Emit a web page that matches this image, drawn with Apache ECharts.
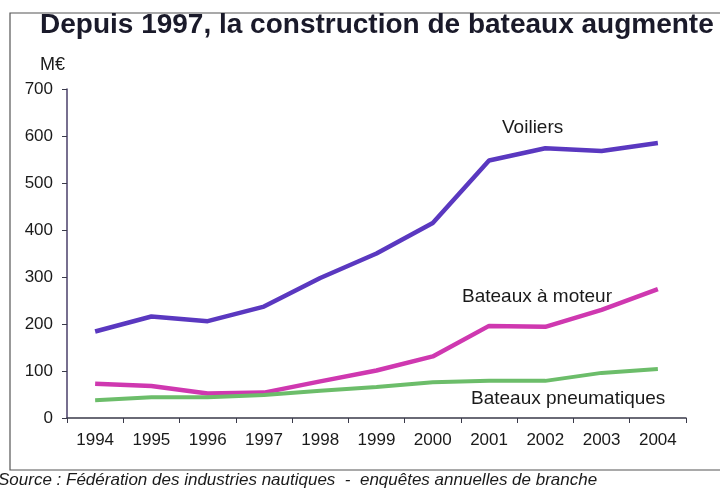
<!DOCTYPE html>
<html><head><meta charset="utf-8">
<script src="https://cdn.jsdelivr.net/npm/echarts@6/dist/echarts.min.js"></script>
<style>html,body{margin:0;padding:0;background:#fff}#c{width:720px;height:489px}</style>
</head><body><div id="c"></div>
<script>
const years = ['1994','1995','1996','1997','1998','1999','2000','2001','2002','2003','2004'];
const voiliers = [184, 216, 206, 237, 298, 350, 415, 548, 574, 568, 585];
const moteur = [73, 68, 52, 54, 78, 101, 131, 196, 194, 230, 274];
const pneumatiques = [38, 44, 44, 49, 58, 66, 76, 79, 79, 96, 104];
const yTicks = [0, 100, 200, 300, 400, 500, 600, 700];

const chart = echarts.init(document.getElementById('c'));
const font = 'Liberation Sans, Arial, sans-serif';
chart.setOption({
  backgroundColor: '#ffffff',
  animation: false,
  title: {
    text: 'Depuis 1997, la construction de bateaux augmente',
    left: 35, top: 6,
    textStyle: {fontFamily: font, fontSize: 28, fontWeight: 'bold', color: '#1a1a2a'}
  },
  grid: {left: 67, right: 34, top: 89, bottom: 71},
  xAxis: {
    type: 'category', data: years, boundaryGap: true,
    axisLine: {lineStyle: {color: '#3a3a4a', width: 1.5}},
    axisTick: {show: true, length: 5, lineStyle: {color: '#3a3a4a'}},
    axisLabel: {fontFamily: font, fontSize: 17, color: '#1a1a1a', margin: 14}
  },
  yAxis: {
    type: 'value', min: 0, max: 700, interval: 100,
    axisLine: {show: true, lineStyle: {color: '#4a3f6a', width: 1.5}},
    axisTick: {show: true, length: 5, lineStyle: {color: '#3a3a4a'}},
    splitLine: {show: false},
    axisLabel: {fontFamily: font, fontSize: 17, color: '#1a1a1a', margin: 14,
      formatter: v => yTicks.includes(v) ? String(v) : ''}
  },
  series: [
    {name: 'Voiliers', type: 'line', data: voiliers, symbol: 'none',
      lineStyle: {color: '#5a38c0', width: 4.5}, itemStyle: {color: '#5a38c0'}},
    {name: 'Bateaux à moteur', type: 'line', data: moteur, symbol: 'none',
      lineStyle: {color: '#cf38b0', width: 4.5}, itemStyle: {color: '#cf38b0'}},
    {name: 'Bateaux pneumatiques', type: 'line', data: pneumatiques, symbol: 'none',
      lineStyle: {color: '#6cbd6a', width: 4}, itemStyle: {color: '#6cbd6a'}}
  ],
  graphic: [
    {type: 'rect', shape: {x: 10, y: 13, width: 720, height: 457},
      style: {fill: 'none', stroke: '#555', lineWidth: 1.2}, silent: true},
    {type: 'text', left: 40, top: 56, style: {text: 'M€', font: '18px ' + font, fill: '#1a1a1a'}},
    {type: 'text', left: 502, top: 118, style: {text: 'Voiliers', font: '19px ' + font, fill: '#1a1a1a'}},
    {type: 'text', left: 462, top: 287, style: {text: 'Bateaux à moteur', font: '19px ' + font, fill: '#1a1a1a'}},
    {type: 'text', left: 471, top: 389, style: {text: 'Bateaux pneumatiques', font: '19px ' + font, fill: '#1a1a1a'}},
    {type: 'text', left: -2, top: 472, style: {text: 'Source : Fédération des industries nautiques  -  enquêtes annuelles de branche', font: 'italic 17px ' + font, fill: '#1a1a1a'}}
  ]
});
</script></body></html>
